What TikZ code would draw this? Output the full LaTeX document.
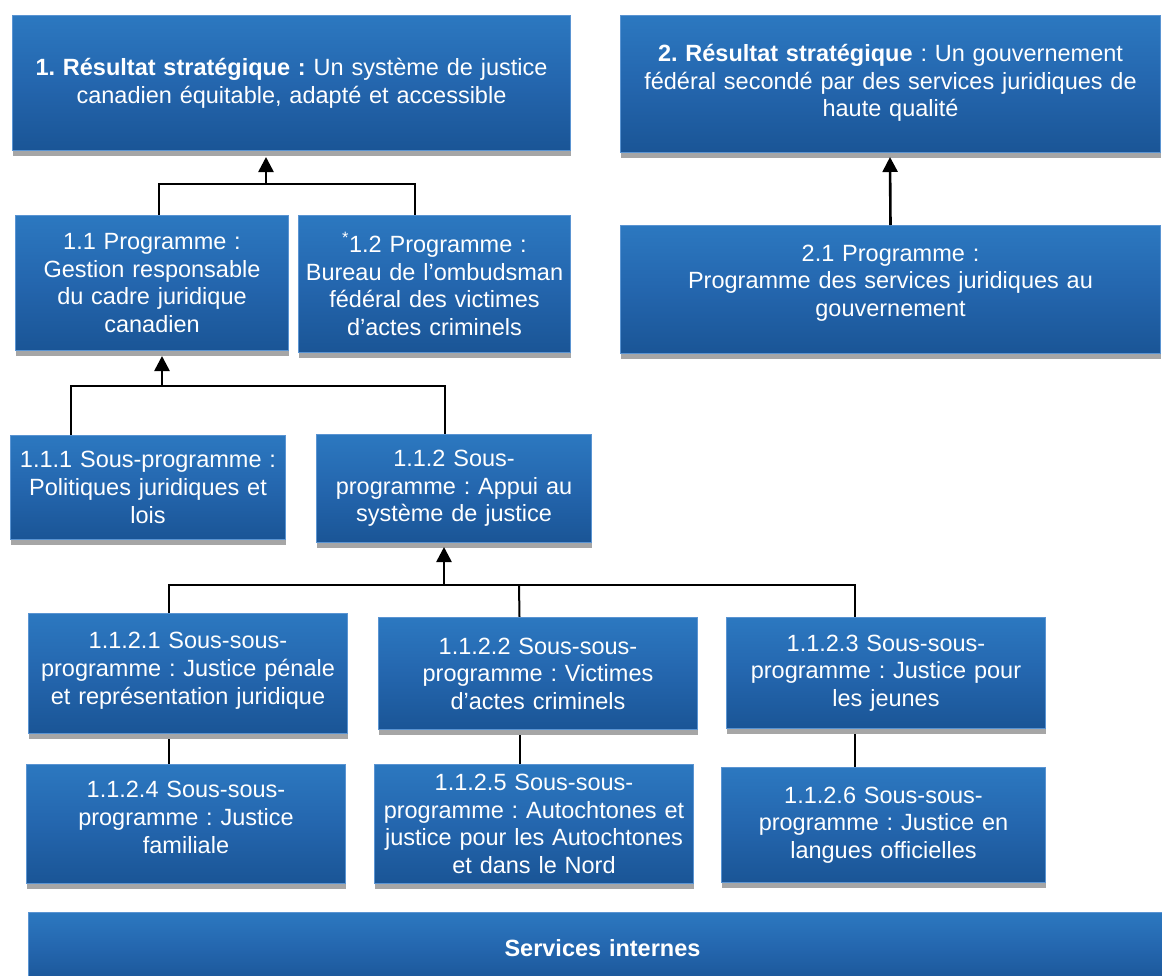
\documentclass[tikz,border=0pt]{standalone}
\usepackage{fontspec}
\setmainfont{Liberation Sans}
\usetikzlibrary{shadows,arrows.meta,backgrounds}
\frenchspacing
\definecolor{boxtop}{HTML}{2C78C0}
\definecolor{boxmid}{HTML}{2466AE}
\definecolor{boxbot}{HTML}{1A5596}
\definecolor{boxedge}{HTML}{5A94D2}
\definecolor{shadowgray}{HTML}{A6A6A6}
\tikzset{
  bluebox/.style={draw=boxedge, line width=1pt, top color=boxtop, bottom color=boxbot,
    middle color=boxmid, anchor=north west, align=center, text=white, inner sep=2pt,
    font=\fontsize{23.5}{27.6}\selectfont\frenchspacing,
    drop shadow={shadow xshift=0pt, shadow yshift=-5pt, fill=shadowgray, opacity=1}},
  conn/.style={draw=black, line width=2pt},
  arr/.style={draw=black, line width=2.6pt, -{Triangle[width=15pt,length=15pt]}},
}
\newcommand{\bx}[6]{\node[bluebox, minimum width=#4pt, minimum height=#5pt, text width=#4pt-8pt] (#1) at (#2,#3) {#6};}
\begin{document}
\begin{tikzpicture}[x=1pt,y=-1pt]
\useasboundingbox (0,0) rectangle (1162,975);
\bx{r1}{12}{15}{558}{135}{\textbf{1. Résultat stratégique :} Un système de justice\\canadien équitable, adapté et accessible}
\bx{r2}{620}{15}{540}{137}{\textbf{2. Résultat stratégique} : Un gouvernement\\fédéral secondé par des services juridiques de\\haute qualité\\[-21pt]\mbox{}}
\bx{n11}{15}{215}{273}{135}{1.1 Programme :\\Gestion responsable\\du cadre juridique\\canadien}
\bx{n12}{298}{215}{272}{137}{\textsuperscript{*}1.2 Programme :\\Bureau de l’ombudsman\\fédéral des victimes\\d’actes criminels}
\bx{n21}{620}{225}{540}{128}{2.1 Programme :\\Programme des services juridiques au\\gouvernement\\[-10pt]\mbox{}}
\bx{n111}{10}{435}{275}{104}{1.1.1 Sous-programme :\\Politiques juridiques et\\lois}
\bx{n112}{316}{434}{275}{108}{1.1.2 Sous-\\programme : Appui au\\système de justice}
\bx{n1121}{28}{613}{319}{120}{1.1.2.1 Sous-sous-\\programme : Justice pénale\\et représentation juridique\\[-17pt]\mbox{}}
\bx{n1122}{378}{617}{319}{112}{1.1.2.2 Sous-sous-\\programme : Victimes\\d’actes criminels}
\bx{n1123}{726}{617}{319}{111}{1.1.2.3 Sous-sous-\\programme : Justice pour\\les jeunes}
\bx{n1124}{26}{764}{319}{119}{1.1.2.4 Sous-sous-\\programme : Justice\\familiale\\[-14pt]\mbox{}}
\bx{n1125}{374}{764}{319}{119}{1.1.2.5 Sous-sous-\\programme : Autochtones et\\justice pour les Autochtones\\et dans le Nord}
\bx{n1126}{721}{767}{324}{115}{1.1.2.6 Sous-sous-\\programme : Justice en\\langues officielles}
\bx{si}{28}{912}{1148}{72}{\textbf{Services internes}}
\coordinate (j1) at (266,184);
\coordinate (t1) at (266,157);
\coordinate (t2) at (890,157);
\coordinate (j3) at (162,386);
\coordinate (t3) at (162,356);
\coordinate (j4) at (444,585);
\coordinate (t4) at (444,547);
\coordinate (j5) at (519,585);
\begin{scope}[on background layer]
\draw[conn] ([xshift=6.5pt]n11.north) |- (j1) -| ([xshift=-20pt]n12.north);
\draw[conn] ([xshift=-77.5pt]n111.north) |- (j3) -| ([xshift=-9.5pt]n112.north);
\draw[conn] ([xshift=-19.5pt]n1121.north) |- (j4) -| ([xshift=-31.5pt]n1123.north);
\draw[conn] (j5) -- ([xshift=-18.5pt]n1122.north);
\draw[conn] ([xshift=-19.5pt]n1121.south) -- ([xshift=-17.5pt]n1124.north);
\draw[conn] ([xshift=-18.5pt]n1122.south) -- ([xshift=-14.5pt]n1125.north);
\draw[conn] ([xshift=-31.5pt]n1123.south) -- ([xshift=-29pt]n1126.north);
\end{scope}
\draw[arr] (j1) -- (t1);
\draw[arr] (n21.north) -- (t2);
\draw[arr] (j3) -- (t3);
\draw[arr] (j4) -- (t4);
\end{tikzpicture}
\end{document}
